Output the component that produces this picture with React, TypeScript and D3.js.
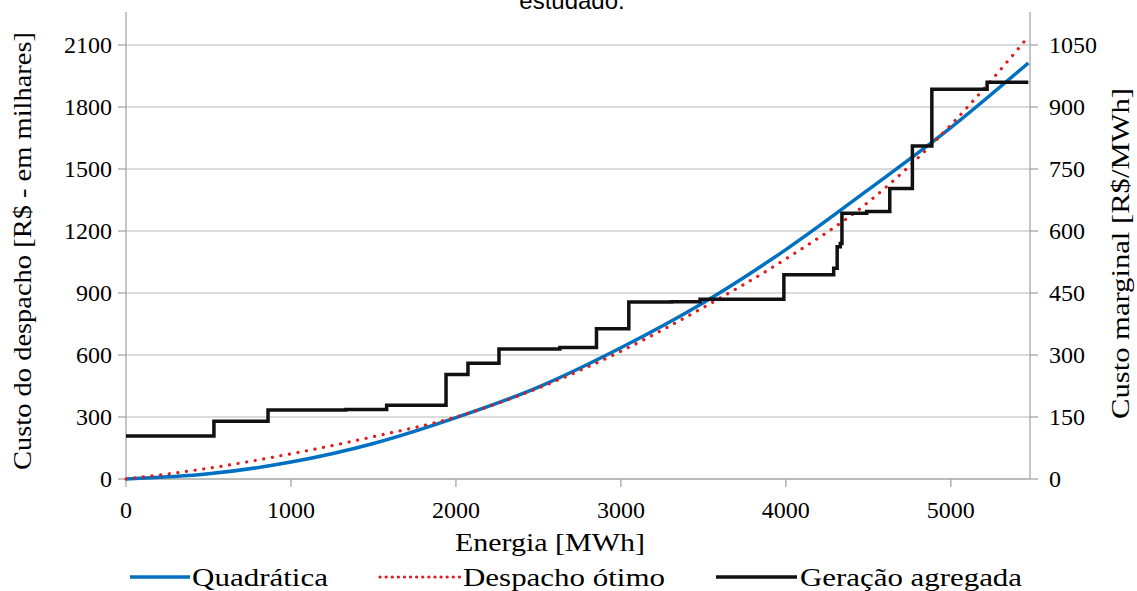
import React, { useEffect } from "react";
import * as d3 from "d3";

// energy (MWh) sample points for the smooth curves
const energy = [0, 500, 1000, 1500, 2000, 2500, 3000, 3500, 4000, 4500, 5000, 5470];
const quadratica = [0, 25, 82, 172, 297, 445, 635, 853, 1110, 1400, 1700, 2013];
const despachoOtimo = [0, 52, 122, 205, 300, 440, 618, 830, 1065, 1340, 1713, 2140];

// aggregated generation step function (start of each step, value in R$ thousands)
const stepEnergy = [0, 533, 861, 1332, 1580, 1940, 2073, 2261, 2630, 2852, 3048, 3307, 3480, 3988, 4290, 4311, 4330, 4340, 4490, 4630, 4767, 4885, 5220, 5470];
const stepValue = [208, 279, 334, 336, 357, 506, 560, 629, 636, 727, 856, 858, 870, 988, 1020, 1124, 1140, 1286, 1294, 1406, 1611, 1886, 1920, 1920];

const xTicks = [0, 1000, 2000, 3000, 4000, 5000];
const leftTicks = [0, 300, 600, 900, 1200, 1500, 1800, 2100];
const rightTicks = [0, 150, 300, 450, 600, 750, 900, 1050];

const legendNames = ["Quadrática", "Despacho ótimo", "Geração agregada"];

export default function App() {
  useEffect(() => {
    document.body.style.margin = "0";
  }, []);

  const x = d3.scaleLinear().domain([0, 5480]).range([126, 1030]);
  const y = d3.scaleLinear().domain([0, 2250]).range([479, 14]);
  const y2 = d3.scaleLinear().domain([0, 1125]).range([479, 14]);

  const curve = d3
    .line<number>()
    .x((d, i) => x(energy[i]))
    .y((d) => y(d))
    .curve(d3.curveMonotoneX);

  const step = d3
    .line<number>()
    .x((d, i) => x(stepEnergy[i]))
    .y((d) => y(d))
    .curve(d3.curveStepAfter);

  const grid = "#cfcfcf";
  const axisCol = "#a6a6a6";
  const ink = "#111";

  return (
    <svg width={1137} height={591}>
      <rect width={1137} height={591} fill="#fff" />
      <text x={572} y={9} textAnchor="middle" fontSize={24} fontFamily="sans-serif">
        estudado.
      </text>

      {leftTicks.map((t) => (
        <line key={"g" + t} x1={x(0)} x2={1030} y1={y(t)} y2={y(t)} stroke={t === 0 ? axisCol : grid} strokeWidth={1.3} />
      ))}
      <line x1={x(0)} x2={x(0)} y1={12} y2={479} stroke={axisCol} strokeWidth={1.3} />
      <line x1={1030} x2={1030} y1={12} y2={479} stroke={axisCol} strokeWidth={1.3} />

      {leftTicks.map((t) => (
        <g key={"l" + t}>
          <line x1={118} x2={126} y1={y(t)} y2={y(t)} stroke={axisCol} strokeWidth={1.3} />
          <text x={112} y={y(t) + 8} textAnchor="end" fontSize={24} fontFamily="serif">
            {String(t)}
          </text>
        </g>
      ))}
      {rightTicks.map((t) => (
        <g key={"r" + t}>
          <line x1={1030} x2={1038} y1={y2(t)} y2={y2(t)} stroke={axisCol} strokeWidth={1.3} />
          <text x={1049} y={y2(t) + 8} fontSize={24} fontFamily="serif">
            {String(t)}
          </text>
        </g>
      ))}
      {xTicks.map((t) => (
        <g key={"x" + t}>
          <line x1={x(t)} x2={x(t)} y1={479} y2={487} stroke={axisCol} strokeWidth={1.3} />
          <text x={x(t)} y={518} textAnchor="middle" fontSize={24} fontFamily="serif">
            {String(t)}
          </text>
        </g>
      ))}

      <path d={curve(quadratica) || ""} fill="none" stroke="#0070c0" strokeWidth={3.5} />
      <path d={curve(despachoOtimo) || ""} fill="none" stroke="#e01b1b" strokeWidth={3.2} strokeDasharray="0.1 8.6" strokeLinecap="round" />
      <path d={step(stepValue) || ""} fill="none" stroke={ink} strokeWidth={3.5} />

      <text x={455} y={551} fontSize={26} fontFamily="serif" textLength={190} lengthAdjust="spacingAndGlyphs">
        Energia [MWh]
      </text>
      <text transform="translate(31,470) rotate(-90)" fontSize={26} fontFamily="serif" textLength={438} lengthAdjust="spacingAndGlyphs">
        Custo do despacho [R$ - em milhares]
      </text>
      <text transform="translate(1129,419) rotate(-90)" fontSize={26} fontFamily="serif" textLength={331} lengthAdjust="spacingAndGlyphs">
        Custo marginal [R$/MWh]
      </text>

      <g>
        <line x1={130} x2={190} y1={577} y2={577} stroke="#0070c0" strokeWidth={3.5} />
        <text x={192} y={586} fontSize={26} fontFamily="serif" textLength={136} lengthAdjust="spacingAndGlyphs">{legendNames[0]}</text>
        <line x1={380} x2={460} y1={577} y2={577} stroke="#e01b1b" strokeWidth={3.2} strokeDasharray="0.1 6" strokeLinecap="round" />
        <text x={463} y={586} fontSize={26} fontFamily="serif" textLength={202} lengthAdjust="spacingAndGlyphs">{legendNames[1]}</text>
        <line x1={716} x2={797} y1={577} y2={577} stroke={ink} strokeWidth={3.5} />
        <text x={800} y={586} fontSize={26} fontFamily="serif" textLength={222} lengthAdjust="spacingAndGlyphs">{legendNames[2]}</text>
      </g>
    </svg>
  );
}
